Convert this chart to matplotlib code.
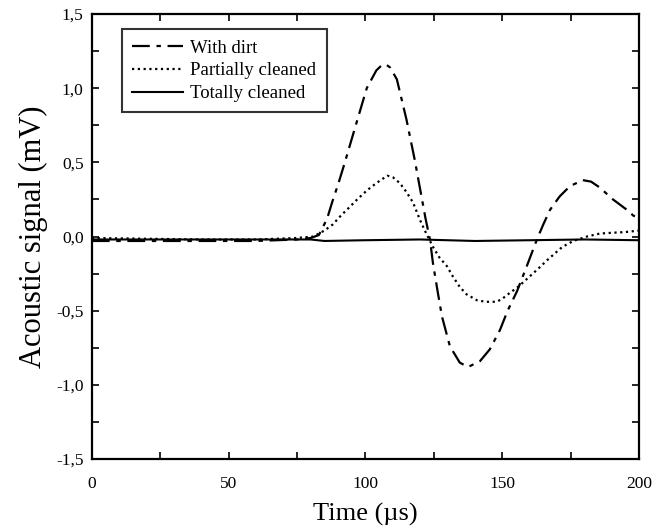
import matplotlib
matplotlib.use("Agg")
import matplotlib.pyplot as plt
from matplotlib.ticker import MultipleLocator, FixedLocator, FixedFormatter

# ---- data ----
t_dirt = [0, 20, 40, 60, 75, 80, 83, 86, 88, 90, 92.5, 96, 100.5, 104, 106, 107.5, 109,
          111.5, 115, 118, 120, 122, 123.6, 124.7, 126.5, 128, 130.9, 134.5, 137.5,
          141.9, 145.5, 149.2, 152, 155.4, 159, 162.7, 165, 167.5, 171, 174.8, 179.5,
          182.5, 185.7, 190.5, 195.6, 198, 200]
v_dirt = [-0.03, -0.03, -0.03, -0.03, -0.02, -0.01, 0.01, 0.12, 0.24, 0.35, 0.50, 0.72,
          1.00, 1.12, 1.155, 1.16, 1.14, 1.06, 0.79, 0.52, 0.32, 0.12, -0.02, -0.18, -0.38,
          -0.54, -0.74, -0.85, -0.88, -0.84, -0.76, -0.63, -0.50, -0.37, -0.20, -0.02,
          0.08, 0.18, 0.27, 0.34, 0.38, 0.37, 0.33, 0.25, 0.18, 0.14, 0.13]

t_part = [0, 20, 40, 60, 75, 81, 85, 88, 91, 94.3, 97, 100.5, 104, 108, 110, 112.6,
          115, 117.4, 120, 122, 124.7, 127, 129.8, 132, 134.5, 137, 140.8, 144, 148,
          150, 152.8, 155.8, 160, 163, 166.4, 172, 176, 181, 185.7, 190, 195, 200]
v_part = [-0.01, -0.015, -0.02, -0.02, -0.01, 0.0, 0.04, 0.08, 0.14, 0.20, 0.25, 0.31,
          0.36, 0.41, 0.40, 0.36, 0.30, 0.23, 0.11, 0.03, -0.07, -0.14, -0.20, -0.27,
          -0.34, -0.39, -0.43, -0.44, -0.44, -0.42, -0.38, -0.34, -0.27, -0.22, -0.16,
          -0.07, -0.03, 0.0, 0.02, 0.025, 0.03, 0.04]

t_total = [0, 50, 80, 85, 100, 120, 140, 160, 180, 200]
v_total = [-0.02, -0.02, -0.02, -0.03, -0.025, -0.02, -0.03, -0.025, -0.02, -0.025]

labels = ["With dirt", "Partially cleaned", "Totally cleaned"]
x_ticks = [0, 50, 100, 150, 200]
x_ticklabels = ["0", "50", "100", "150", "200"]
y_ticks = [-1.5, -1.0, -0.5, 0.0, 0.5, 1.0, 1.5]
y_ticklabels = ["-1,5", "-1,0", "-0,5", "0,0", "0,5", "1,0", "1,5"]

plt.rcParams['font.family'] = ['Liberation Serif', 'DejaVu Serif']

fig = plt.figure(figsize=(6.56, 5.29), dpi=100)
ax = fig.add_axes([0.140, 0.1323, 0.834, 0.8412])

ax.plot(t_dirt, v_dirt, color='black', lw=1.6, linestyle=(0, (8, 3, 2, 3)), label=labels[0])
ax.plot(t_part, v_part, color='black', lw=1.6, linestyle=(0, (1, 1.6)), label=labels[1])
ax.plot(t_total, v_total, color='black', lw=1.5, linestyle='-', label=labels[2])

ax.set_xlim(0, 200)
ax.set_ylim(-1.5, 1.5)
ax.xaxis.set_major_locator(FixedLocator(x_ticks))
ax.xaxis.set_major_formatter(FixedFormatter(x_ticklabels))
ax.yaxis.set_major_locator(FixedLocator(y_ticks))
ax.yaxis.set_major_formatter(FixedFormatter(y_ticklabels))
ax.xaxis.set_minor_locator(MultipleLocator(25))
ax.yaxis.set_minor_locator(MultipleLocator(0.25))
ax.tick_params(which='both', direction='in', top=True, right=True, length=5, width=1.2,
               labelsize=12.5)
ax.tick_params(axis='x', which='major', pad=12)
ax.tick_params(axis='y', which='major', pad=6)

for s in ax.spines.values():
    s.set_linewidth(1.6)

ax.set_xlabel("Time (µs)", fontsize=19, labelpad=8)
ax.set_ylabel("Acoustic signal (mV)", fontsize=22, labelpad=6)

leg = ax.legend(loc='upper left', bbox_to_anchor=(0.055, 0.966), borderaxespad=0,
                fancybox=False, edgecolor='black', fontsize=13.5, handlelength=2.7,
                handletextpad=0.4, labelspacing=0.3, borderpad=0.55)
leg.get_frame().set_linewidth(1.5)

fig.savefig("out.png", dpi=100)
